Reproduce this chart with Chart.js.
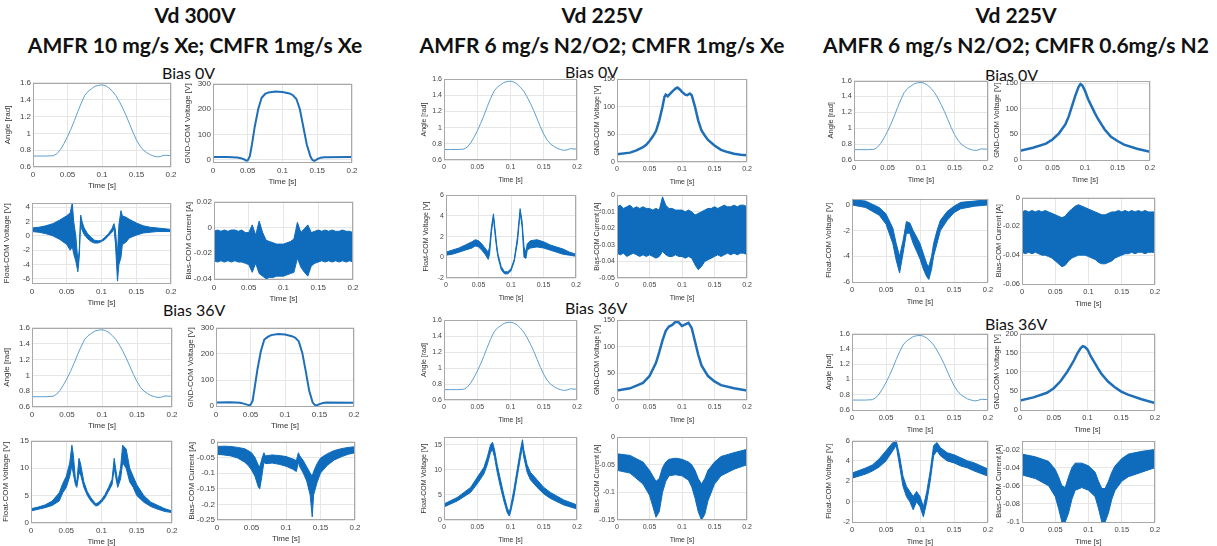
<!DOCTYPE html>
<html>
<head>
<meta charset="utf-8">
<script src="https://cdn.jsdelivr.net/npm/chart.js"></script>
<style>
  body { margin: 0; background: #fff; }
  #page { position: relative; width: 1217px; height: 546px; overflow: hidden; font-family: Lato, "Liberation Sans", sans-serif; }
  .plot { position: absolute; }
  .ttl { position: absolute; font-weight: bold; font-size: 21px; color: #111; text-align: center; width: 420px; white-space: nowrap; }
  .bias { position: absolute; font-size: 16px; color: #111; white-space: nowrap; }
</style>
</head>
<body>
<div id="page">
  <div class="ttl" style="left:-15px;top:2px;">Vd 300V</div>
  <div class="ttl" style="left:-15px;top:32px;">AMFR 10 mg/s Xe; CMFR 1mg/s Xe</div>
  <div class="ttl" style="left:392px;top:2px;">Vd 225V</div>
  <div class="ttl" style="left:392px;top:32px;">AMFR 6 mg/s N2/O2; CMFR 1mg/s Xe</div>
  <div class="ttl" style="left:806px;top:2px;">Vd 225V</div>
  <div class="ttl" style="left:806px;top:32px;">AMFR 6 mg/s N2/O2; CMFR 0.6mg/s N2</div>
  <div class="bias" style="left:162px;top:63px;">Bias 0V</div>
  <div class="bias" style="left:163px;top:300px;">Bias 36V</div>
  <div class="bias" style="left:565px;top:62px;">Bias 0V</div>
  <div class="bias" style="left:565px;top:298px;">Bias 36V</div>
  <div class="bias" style="left:985px;top:65px;">Bias 0V</div>
  <div class="bias" style="left:985px;top:314px;">Bias 36V</div>
</div>
<script>
// time axis ticks shared by every panel
const timeTicks = [0, 0.05, 0.1, 0.15, 0.2];
const t41 = [0,0.005,0.01,0.015,0.02,0.025,0.03,0.035,0.04,0.045,0.05,0.055,0.06,0.065,0.07,0.075,0.08,0.085,0.09,0.095,
             0.1,0.105,0.11,0.115,0.12,0.125,0.13,0.135,0.14,0.145,0.15,0.155,0.16,0.165,0.17,0.175,0.18,0.185,0.19,0.195,0.2];

// angle trace (same sweep in all six cases)
const angT = [0,0.01,0.02,0.03,0.035,0.04,0.045,0.05,0.055,0.06,0.065,0.07,0.075,0.08,0.085,0.09,0.095,0.1,0.105,0.11,
              0.115,0.12,0.125,0.13,0.135,0.14,0.145,0.15,0.155,0.16,0.165,0.17,0.175,0.18,0.185,0.19,0.2];
const angY = [0.73,0.73,0.73,0.735,0.76,0.81,0.88,0.96,1.05,1.15,1.26,1.36,1.45,1.50,1.53,1.56,1.57,1.575,1.565,1.54,
              1.50,1.45,1.38,1.30,1.21,1.11,1.01,0.92,0.85,0.80,0.77,0.745,0.73,0.72,0.725,0.74,0.735];
const angTicks = [0.6, 0.8, 1, 1.2, 1.4, 1.6];

// ---- group 1: Vd 300V, Xe / Xe ----
const g1v0T = [0,0.02,0.035,0.04,0.045,0.048,0.05,0.053,0.056,0.06,0.065,0.07,0.075,0.08,0.09,0.1,0.11,0.115,0.12,0.125,
               0.13,0.135,0.14,0.143,0.146,0.15,0.155,0.16,0.2];
const g1v0Y = [12,12,10,7,2,-3,-2,15,60,130,200,245,260,266,270,268,262,255,240,200,130,60,15,0,-4,3,9,11,12];
const g1v36Y = [14,15,13,10,6,4,5,20,70,140,210,255,265,272,276,274,268,262,248,205,135,60,15,5,4,8,12,14,13];
const g1vTicks = [0, 100, 200, 300];

const g1f0T = [0,0.01,0.02,0.03,0.04,0.05,0.055,0.058,0.06,0.063,0.066,0.068,0.07,0.072,0.075,0.08,0.085,0.09,0.095,0.1,
               0.105,0.11,0.115,0.118,0.12,0.123,0.125,0.128,0.13,0.135,0.14,0.15,0.16,0.17,0.18,0.19,0.2];
const g1f0Hi = [1.1,1.2,1.4,1.7,2.2,2.8,3.2,4.6,2.0,0.0,-3.5,-2.0,2.9,2.0,1.1,0.3,-0.2,-0.6,-0.7,-0.6,
                -0.2,0.3,1.0,1.7,0.8,-2.5,1.5,3.5,2.8,2.6,2.3,1.8,1.4,1.2,1.1,1.0,0.9];
const g1f0Lo = [0.6,0.5,0.3,0.0,-0.5,-1.2,-2.0,-1.5,-2.5,-3.5,-5.0,-3.0,2.0,0.8,0.2,-0.4,-0.8,-1.0,-1.0,-0.8,
                -0.5,0.0,0.5,1.0,-1.0,-6.3,-4.0,-3.0,-1.2,-0.9,-0.3,0.1,0.4,0.5,0.6,0.6,0.6];
const g1f0Ticks = [-6, -4, -2, 0, 2, 4];

const g1b0Hi = [-0.003,-0.002,-0.003,-0.002,-0.003,-0.002,-0.002,-0.003,-0.002,-0.004,-0.004,0.002,-0.006,0.005,-0.004,-0.010,-0.011,-0.012,-0.013,-0.013,
                -0.013,-0.012,-0.011,-0.009,0.004,-0.004,-0.001,0.002,-0.004,-0.003,-0.002,-0.003,-0.002,-0.003,-0.002,-0.003,-0.003,-0.002,-0.003,-0.003,-0.004];
const g1b0Lo = [-0.026,-0.027,-0.026,-0.027,-0.026,-0.027,-0.026,-0.027,-0.027,-0.028,-0.029,-0.035,-0.028,-0.036,-0.038,-0.040,-0.039,-0.039,-0.038,-0.038,
                -0.038,-0.037,-0.036,-0.035,-0.024,-0.031,-0.035,-0.038,-0.030,-0.028,-0.027,-0.026,-0.027,-0.026,-0.027,-0.026,-0.027,-0.026,-0.027,-0.026,-0.027];
const g1b0Ticks = [-0.04, -0.02, 0, 0.02];

const g1f36T = [0,0.01,0.02,0.03,0.04,0.045,0.05,0.055,0.058,0.06,0.063,0.065,0.068,0.07,0.075,0.08,0.085,0.09,0.092,0.095,
                0.1,0.105,0.11,0.115,0.118,0.12,0.123,0.127,0.13,0.135,0.14,0.145,0.15,0.16,0.17,0.18,0.19,0.2];
const g1f36Hi = [2.6,2.9,3.3,4.0,5.5,7.2,8.5,11,14.2,12.5,8.0,7.5,11.8,11,7.5,5.7,4.6,3.8,3.5,3.7,
                 4.3,5.2,6.5,8.0,11.8,10,7.5,10,14.2,13.5,10,8.5,7.0,5.0,3.8,3.2,2.6,2.2];
const g1f36Lo = [2.2,2.5,2.8,3.2,4.0,5.5,6.5,8.5,10.5,9.0,7.0,6.5,9.0,9.0,6.5,5.0,4.0,3.3,3.1,3.2,
                 3.8,4.6,5.8,7.0,10,8.5,6.5,8.0,11,10,7.5,6.5,5.0,3.8,3.0,2.5,2.1,1.9];
const g1f36Ticks = [0, 5, 10, 15];

const g1b36T = [0,0.01,0.02,0.03,0.04,0.045,0.05,0.055,0.06,0.062,0.065,0.068,0.07,0.08,0.09,0.1,0.11,0.115,0.118,0.12,
                0.125,0.13,0.135,0.138,0.14,0.145,0.15,0.16,0.17,0.18,0.19,0.2];
const g1b36Hi = [-0.015,-0.014,-0.015,-0.018,-0.022,-0.028,-0.035,-0.05,-0.075,-0.08,-0.055,-0.035,-0.045,-0.042,-0.044,-0.047,-0.055,-0.06,-0.035,-0.045,
                 -0.06,-0.08,-0.1,-0.11,-0.095,-0.07,-0.052,-0.038,-0.028,-0.022,-0.018,-0.016];
const g1b36Lo = [-0.04,-0.042,-0.045,-0.052,-0.065,-0.075,-0.09,-0.11,-0.145,-0.15,-0.11,-0.065,-0.07,-0.068,-0.072,-0.078,-0.088,-0.095,-0.065,-0.08,
                 -0.1,-0.125,-0.17,-0.24,-0.17,-0.13,-0.1,-0.075,-0.058,-0.048,-0.04,-0.035];
const g1b36Ticks = [-0.25, -0.2, -0.15, -0.1, -0.05, 0];

// ---- group 2: Vd 225V, N2/O2 / Xe ----
const g2v0T = [0,0.02,0.03,0.04,0.045,0.05,0.055,0.06,0.065,0.07,0.073,0.075,0.078,0.082,0.086,0.09,0.093,0.097,0.1,0.105,
               0.108,0.112,0.115,0.12,0.125,0.13,0.135,0.14,0.15,0.16,0.17,0.18,0.19,0.2];
const g2v0Y = [14,17,21,27,31,38,46,56,75,100,118,122,119,124,129,133,135,131,127,122,121,124,121,100,75,57,48,40,30,22,18,15,13,12];
const g2vTicks = [0, 50, 100, 150];

const g2f0T = [0,0.01,0.02,0.03,0.04,0.045,0.05,0.055,0.06,0.065,0.067,0.07,0.073,0.075,0.078,0.08,0.085,0.09,0.095,0.1,
               0.105,0.11,0.114,0.117,0.12,0.123,0.125,0.13,0.14,0.15,0.16,0.17,0.18,0.19,0.2];
const g2f0Hi = [0.5,0.7,0.9,1.2,1.5,1.7,1.6,1.3,0.9,0.5,1.0,3.0,4.2,3.0,1.2,0.3,-0.9,-1.4,-1.4,-1.1,
                -0.2,2.0,4.7,3.5,1.0,0.5,1.3,1.6,1.7,1.5,1.2,1.0,0.8,0.5,0.3];
const g2f0Lo = [0.2,0.3,0.5,0.7,0.9,1.1,1.0,0.7,0.3,-0.2,0.3,2.5,3.8,2.5,0.8,0.0,-1.2,-1.6,-1.6,-1.3,
                -0.4,1.5,4.3,3.0,0.0,-0.1,0.7,0.9,1.0,0.9,0.7,0.5,0.3,0.2,0.1];
const g2f0Ticks = [-2, 0, 2, 4, 6];

const g2b0Hi = [-0.007,-0.006,-0.008,-0.007,-0.006,-0.008,-0.007,-0.008,-0.007,-0.008,-0.008,-0.009,-0.008,-0.009,-0.001,-0.006,-0.008,-0.008,-0.009,-0.009,
                -0.009,-0.01,-0.009,-0.01,-0.012,-0.011,-0.01,-0.009,-0.008,-0.008,-0.007,-0.008,-0.007,-0.006,-0.007,-0.007,-0.006,-0.007,-0.006,-0.006,-0.007];
const g2b0Lo = [-0.035,-0.036,-0.035,-0.037,-0.036,-0.035,-0.036,-0.037,-0.036,-0.037,-0.036,-0.037,-0.038,-0.037,-0.034,-0.036,-0.037,-0.037,-0.036,-0.037,
                -0.037,-0.038,-0.037,-0.038,-0.042,-0.045,-0.043,-0.04,-0.039,-0.038,-0.037,-0.036,-0.037,-0.036,-0.035,-0.036,-0.035,-0.036,-0.035,-0.035,-0.036];
const g2b0Ticks = [-0.05, -0.04, -0.03, -0.02, -0.01, 0];

const g2v36T = [0,0.02,0.04,0.05,0.06,0.065,0.07,0.075,0.08,0.085,0.09,0.095,0.1,0.105,0.11,0.115,0.12,0.125,0.13,0.14,0.15,0.16,0.18,0.2];
const g2v36Y = [18,22,32,45,70,90,112,130,138,141,147,146,139,142,145,135,110,85,65,45,35,28,22,18];

const g2f36T = [0,0.02,0.04,0.05,0.055,0.06,0.065,0.07,0.073,0.076,0.08,0.085,0.09,0.095,0.098,0.1,0.105,0.11,0.115,0.118,
                0.12,0.125,0.13,0.14,0.15,0.16,0.18,0.2];
const g2f36Hi = [3.2,4.5,6.5,8.5,9.5,10.5,12.5,15.0,15.5,14,11,8,5,2.5,1.5,2.5,6,10,14,16,14,11,9.5,8,6.5,5.5,4,3];
const g2f36Lo = [2.6,3.8,5.5,7.2,8.2,9.2,11,13.5,14,12.5,9.5,6.5,3.8,1.5,0.8,1.5,4.5,8.5,12.5,14.5,12.5,9.5,8,6.5,5.2,4.3,3,2.2];
const g2f36Ticks = [0, 5, 10, 15];

const g2b36T = [0,0.02,0.04,0.05,0.055,0.06,0.065,0.07,0.075,0.08,0.09,0.1,0.11,0.115,0.12,0.125,0.13,0.135,0.14,0.15,0.16,0.18,0.2];
const g2b36Hi = [-0.03,-0.033,-0.045,-0.06,-0.07,-0.08,-0.075,-0.055,-0.045,-0.04,-0.038,-0.04,-0.045,-0.05,-0.06,-0.075,-0.085,-0.075,-0.06,-0.045,-0.035,-0.028,-0.022];
const g2b36Lo = [-0.06,-0.065,-0.085,-0.105,-0.125,-0.145,-0.135,-0.1,-0.08,-0.07,-0.068,-0.07,-0.078,-0.09,-0.11,-0.135,-0.15,-0.14,-0.115,-0.085,-0.07,-0.058,-0.05];
const g2b36Ticks = [-0.15, -0.1, -0.05, 0];

// ---- group 3: Vd 225V, N2/O2 / N2 ----
const g3vT = [0,0.02,0.04,0.05,0.06,0.07,0.075,0.08,0.085,0.09,0.093,0.096,0.1,0.105,0.11,0.115,0.12,0.13,0.14,0.15,0.16,0.18,0.2];
const g3v0Y = [18,24,32,40,52,70,85,105,125,142,148,145,135,118,105,92,80,60,45,37,30,22,16];
const g3v0Ticks = [0, 50, 100, 150];
const g3v36Y = [25,33,45,57,75,100,115,130,148,162,167,165,158,140,125,110,96,75,60,48,40,28,18];
const g3v36Ticks = [0, 50, 100, 150, 200];

const g3f0T = [0,0.02,0.04,0.05,0.06,0.065,0.07,0.075,0.08,0.085,0.09,0.1,0.105,0.11,0.113,0.117,0.12,0.125,0.13,0.14,0.15,0.16,0.18,0.2];
const g3f0Hi = [0.4,0.3,-0.2,-0.7,-1.8,-3.0,-4.0,-2.8,-1.3,-1.4,-2.0,-3.0,-3.8,-4.6,-4.8,-4.0,-3.0,-2.0,-1.2,-0.5,-0.1,0.2,0.3,0.4];
const g3f0Lo = [0.0,-0.2,-0.8,-1.5,-3.0,-4.3,-5.3,-3.8,-2.2,-2.2,-3.0,-4.2,-5.0,-5.6,-5.8,-5.0,-4.0,-3.0,-2.0,-1.2,-0.6,-0.3,-0.1,0.0];
const g3f0Ticks = [-6, -4, -2, 0];

const g3b0Hi = [-0.01,-0.009,-0.01,-0.009,-0.01,-0.009,-0.01,-0.009,-0.01,-0.011,-0.012,-0.013,-0.014,-0.013,-0.01,-0.008,-0.006,-0.005,-0.006,-0.007,
                -0.008,-0.009,-0.01,-0.011,-0.012,-0.012,-0.011,-0.01,-0.01,-0.009,-0.01,-0.009,-0.01,-0.009,-0.01,-0.009,-0.01,-0.009,-0.01,-0.01,-0.01];
const g3b0Lo = [-0.038,-0.039,-0.038,-0.039,-0.038,-0.039,-0.04,-0.04,-0.041,-0.042,-0.044,-0.046,-0.048,-0.047,-0.044,-0.042,-0.041,-0.04,-0.04,-0.04,
                -0.041,-0.042,-0.043,-0.045,-0.046,-0.046,-0.045,-0.044,-0.042,-0.041,-0.04,-0.039,-0.039,-0.038,-0.039,-0.038,-0.038,-0.039,-0.038,-0.038,-0.038];
const g3b0Ticks = [-0.06, -0.04, -0.02, 0];

const g3f36T = [0,0.02,0.03,0.04,0.05,0.06,0.065,0.07,0.075,0.08,0.085,0.09,0.095,0.1,0.105,0.11,0.115,0.12,0.125,0.13,0.14,0.15,0.16,0.17,0.18,0.2];
const g3f36Hi = [2.8,3.3,3.6,4.2,5.0,5.8,6.0,4.5,2.5,1.5,1.0,0.5,1.0,0.5,-0.5,1.0,3.0,5.5,5.8,5.3,4.8,4.6,4.3,4.0,3.8,3.2];
const g3f36Lo = [2.3,2.7,3.0,3.4,4.0,5.0,5.5,3.5,1.5,0.5,0.0,-0.8,0.0,-0.5,-1.5,0.0,2.0,4.5,5.0,4.5,4.0,3.8,3.5,3.3,3.0,2.5];
const g3f36Ticks = [-2, 0, 2, 4, 6];

const g3b36T = [0,0.02,0.04,0.05,0.055,0.06,0.065,0.07,0.075,0.08,0.09,0.1,0.11,0.115,0.12,0.125,0.13,0.135,0.14,0.15,0.16,0.18,0.2];
const g3b36Hi = [-0.025,-0.028,-0.033,-0.042,-0.05,-0.06,-0.062,-0.05,-0.04,-0.035,-0.035,-0.038,-0.045,-0.055,-0.063,-0.063,-0.055,-0.045,-0.038,-0.03,-0.025,-0.022,-0.02];
const g3b36Lo = [-0.048,-0.052,-0.06,-0.072,-0.085,-0.1,-0.1,-0.09,-0.075,-0.065,-0.062,-0.065,-0.072,-0.085,-0.1,-0.1,-0.09,-0.075,-0.065,-0.055,-0.05,-0.045,-0.04];
const g3b36Ticks = [-0.1, -0.08, -0.06, -0.04, -0.02];

const ANG_C = '#5f9fce';
const V_C = '#1f6fb8';
const BAND_C = '#0f6cbd';

function zip(t, y) {
    return t.map((x, i) => ({ x: x, y: y[i] }));
}
function lineData(t, y, color, w) {
    return [{ data: zip(t, y), borderColor: color, borderWidth: w, pointRadius: 0, fill: false }];
}
function bandData(t, hi, lo) {
    return [
        { data: zip(t, hi), borderColor: BAND_C, backgroundColor: BAND_C, borderWidth: 1, pointRadius: 0, fill: '+1' },
        { data: zip(t, lo), borderColor: BAND_C, borderWidth: 1, pointRadius: 0, fill: false }
    ];
}

const boxPlugin = {
    id: 'box',
    afterDraw(chart) {
        const a = chart.chartArea, ctx = chart.ctx;
        ctx.save();
        ctx.strokeStyle = '#a8a8a8';
        ctx.lineWidth = 1;
        ctx.strokeRect(Math.round(a.left) + 0.5, Math.round(a.top) + 0.5, Math.round(a.right - a.left) - 1, Math.round(a.bottom - a.top) - 1);
        ctx.restore();
    }
};

const fmt = v => String(+Number(v).toFixed(4));

// box = plot area [left, top, right, bottom] in page pixels
function panel(box, yw, datasets, yMin, yMax, yTicks, yTitle, fs) {
    const PT = 6, PR = 9, XH = 24;
    const div = document.createElement('div');
    div.className = 'plot';
    div.style.left = (box[0] - yw) + 'px';
    div.style.top = (box[1] - PT) + 'px';
    div.style.width = (box[2] - box[0] + yw + PR) + 'px';
    div.style.height = (box[3] - box[1] + PT + XH) + 'px';
    const cv = document.createElement('canvas');
    div.appendChild(cv);
    document.getElementById('page').appendChild(div);
    const font = { family: 'Liberation Sans', size: fs };
    new Chart(cv.getContext('2d'), {
        type: 'line',
        data: { datasets: datasets },
        options: {
            responsive: true,
            maintainAspectRatio: false,
            animation: false,
            layout: { padding: { top: PT, right: PR, left: 0, bottom: 0 } },
            plugins: { legend: { display: false }, tooltip: { enabled: false } },
            scales: {
                x: {
                    type: 'linear', min: 0, max: 0.2,
                    afterBuildTicks: s => { s.ticks = timeTicks.map(v => ({ value: v })); },
                    afterFit: s => { s.height = XH; },
                    grid: { color: '#e6e6e6', drawTicks: false },
                    border: { display: false },
                    ticks: { font: font, color: '#444', padding: 3, maxRotation: 0, callback: fmt },
                    title: { display: true, text: 'Time [s]', font: font, color: '#333', padding: 0 }
                },
                y: {
                    type: 'linear', min: yMin, max: yMax,
                    afterBuildTicks: s => { s.ticks = yTicks.map(v => ({ value: v })); },
                    afterFit: s => { s.width = yw; },
                    grid: { color: '#e6e6e6', drawTicks: false },
                    border: { display: false },
                    ticks: { font: font, color: '#444', padding: 2, callback: fmt },
                    title: { display: true, text: yTitle, font: font, color: '#333', padding: 0 }
                }
            }
        },
        plugins: [boxPlugin]
    });
}

const A = 'Angle [rad]', G = 'GND-COM Voltage [V]', F = 'Float-COM Voltage [V]', B = 'Bias-COM Current [A]';

// group 1
panel([33, 82, 171, 167], 30, lineData(angT, angY, ANG_C, 1), 0.6, 1.6, angTicks, A, 8);
panel([213, 83, 352, 163], 30, lineData(g1v0T, g1v0Y, V_C, 2), -12, 300, g1vTicks, G, 8);
panel([32, 202, 171, 284], 30, bandData(g1f0T, g1f0Hi, g1f0Lo), -6.7, 4.6, g1f0Ticks, F, 8);
panel([214, 201, 353, 280], 30, bandData(t41, g1b0Hi, g1b0Lo), -0.041, 0.02, g1b0Ticks, B, 8);
panel([32, 327, 172, 407], 30, lineData(angT, angY, ANG_C, 1), 0.6, 1.6, angTicks, A, 8);
panel([216, 327, 354, 407], 30, lineData(g1v0T, g1v36Y, V_C, 2), -3, 300, g1vTicks, G, 8);
panel([31, 440, 172, 523], 30, bandData(g1f36T, g1f36Hi, g1f36Lo), 0, 15, g1f36Ticks, F, 8);
panel([217, 441, 355, 520], 30, bandData(g1b36T, g1b36Hi, g1b36Lo), -0.25, 0, g1b36Ticks, B, 8);

// group 2
panel([444, 79, 577, 160], 24, lineData(angT, angY, ANG_C, 1), 0.6, 1.6, angTicks, A, 7);
panel([617, 79, 747, 162], 24, lineData(g2v0T, g2v0Y, V_C, 2.5), 0, 150, g2vTicks, G, 7);
panel([446, 195, 576, 278], 24, bandData(g2f0T, g2f0Hi, g2f0Lo), -2, 6, g2f0Ticks, F, 7);
panel([617, 195, 747, 278], 24, bandData(t41, g2b0Hi, g2b0Lo), -0.05, 0, g2b0Ticks, B, 7);
panel([444, 320, 577, 400], 24, lineData(angT, angY, ANG_C, 1), 0.6, 1.6, angTicks, A, 7);
panel([617, 320, 747, 400], 24, lineData(g2v36T, g2v36Y, V_C, 2.5), 0, 150, g2vTicks, G, 7);
panel([444, 437, 577, 520], 24, bandData(g2f36T, g2f36Hi, g2f36Lo), 0, 16.5, g2f36Ticks, F, 7);
panel([617, 437, 747, 520], 24, bandData(g2b36T, g2b36Hi, g2b36Lo), -0.15, 0, g2b36Ticks, B, 7);

// group 3
panel([854, 80, 988, 160], 28, lineData(angT, angY, ANG_C, 1), 0.6, 1.6, angTicks, A, 7.5);
panel([1020, 80, 1150, 160], 28, lineData(g3vT, g3v0Y, V_C, 2.5), 0, 155, g3v0Ticks, G, 7.5);
panel([852, 198, 988, 282], 28, bandData(g3f0T, g3f0Hi, g3f0Lo), -6, 0.5, g3f0Ticks, F, 7.5);
panel([1022, 197, 1155, 284], 28, bandData(t41, g3b0Hi, g3b0Lo), -0.06, 0, g3b0Ticks, B, 7.5);
panel([852, 333, 988, 410], 28, lineData(angT, angY, ANG_C, 1), 0.6, 1.6, angTicks, A, 7.5);
panel([1020, 333, 1155, 410], 28, lineData(g3vT, g3v36Y, V_C, 2.5), 0, 200, g3v36Ticks, G, 7.5);
panel([852, 440, 988, 522], 28, bandData(g3f36T, g3f36Hi, g3f36Lo), -2, 6, g3f36Ticks, F, 7.5);
panel([1022, 440, 1155, 522], 28, bandData(g3b36T, g3b36Hi, g3b36Lo), -0.1, -0.01, g3b36Ticks, B, 7.5);
</script>
</body>
</html>
